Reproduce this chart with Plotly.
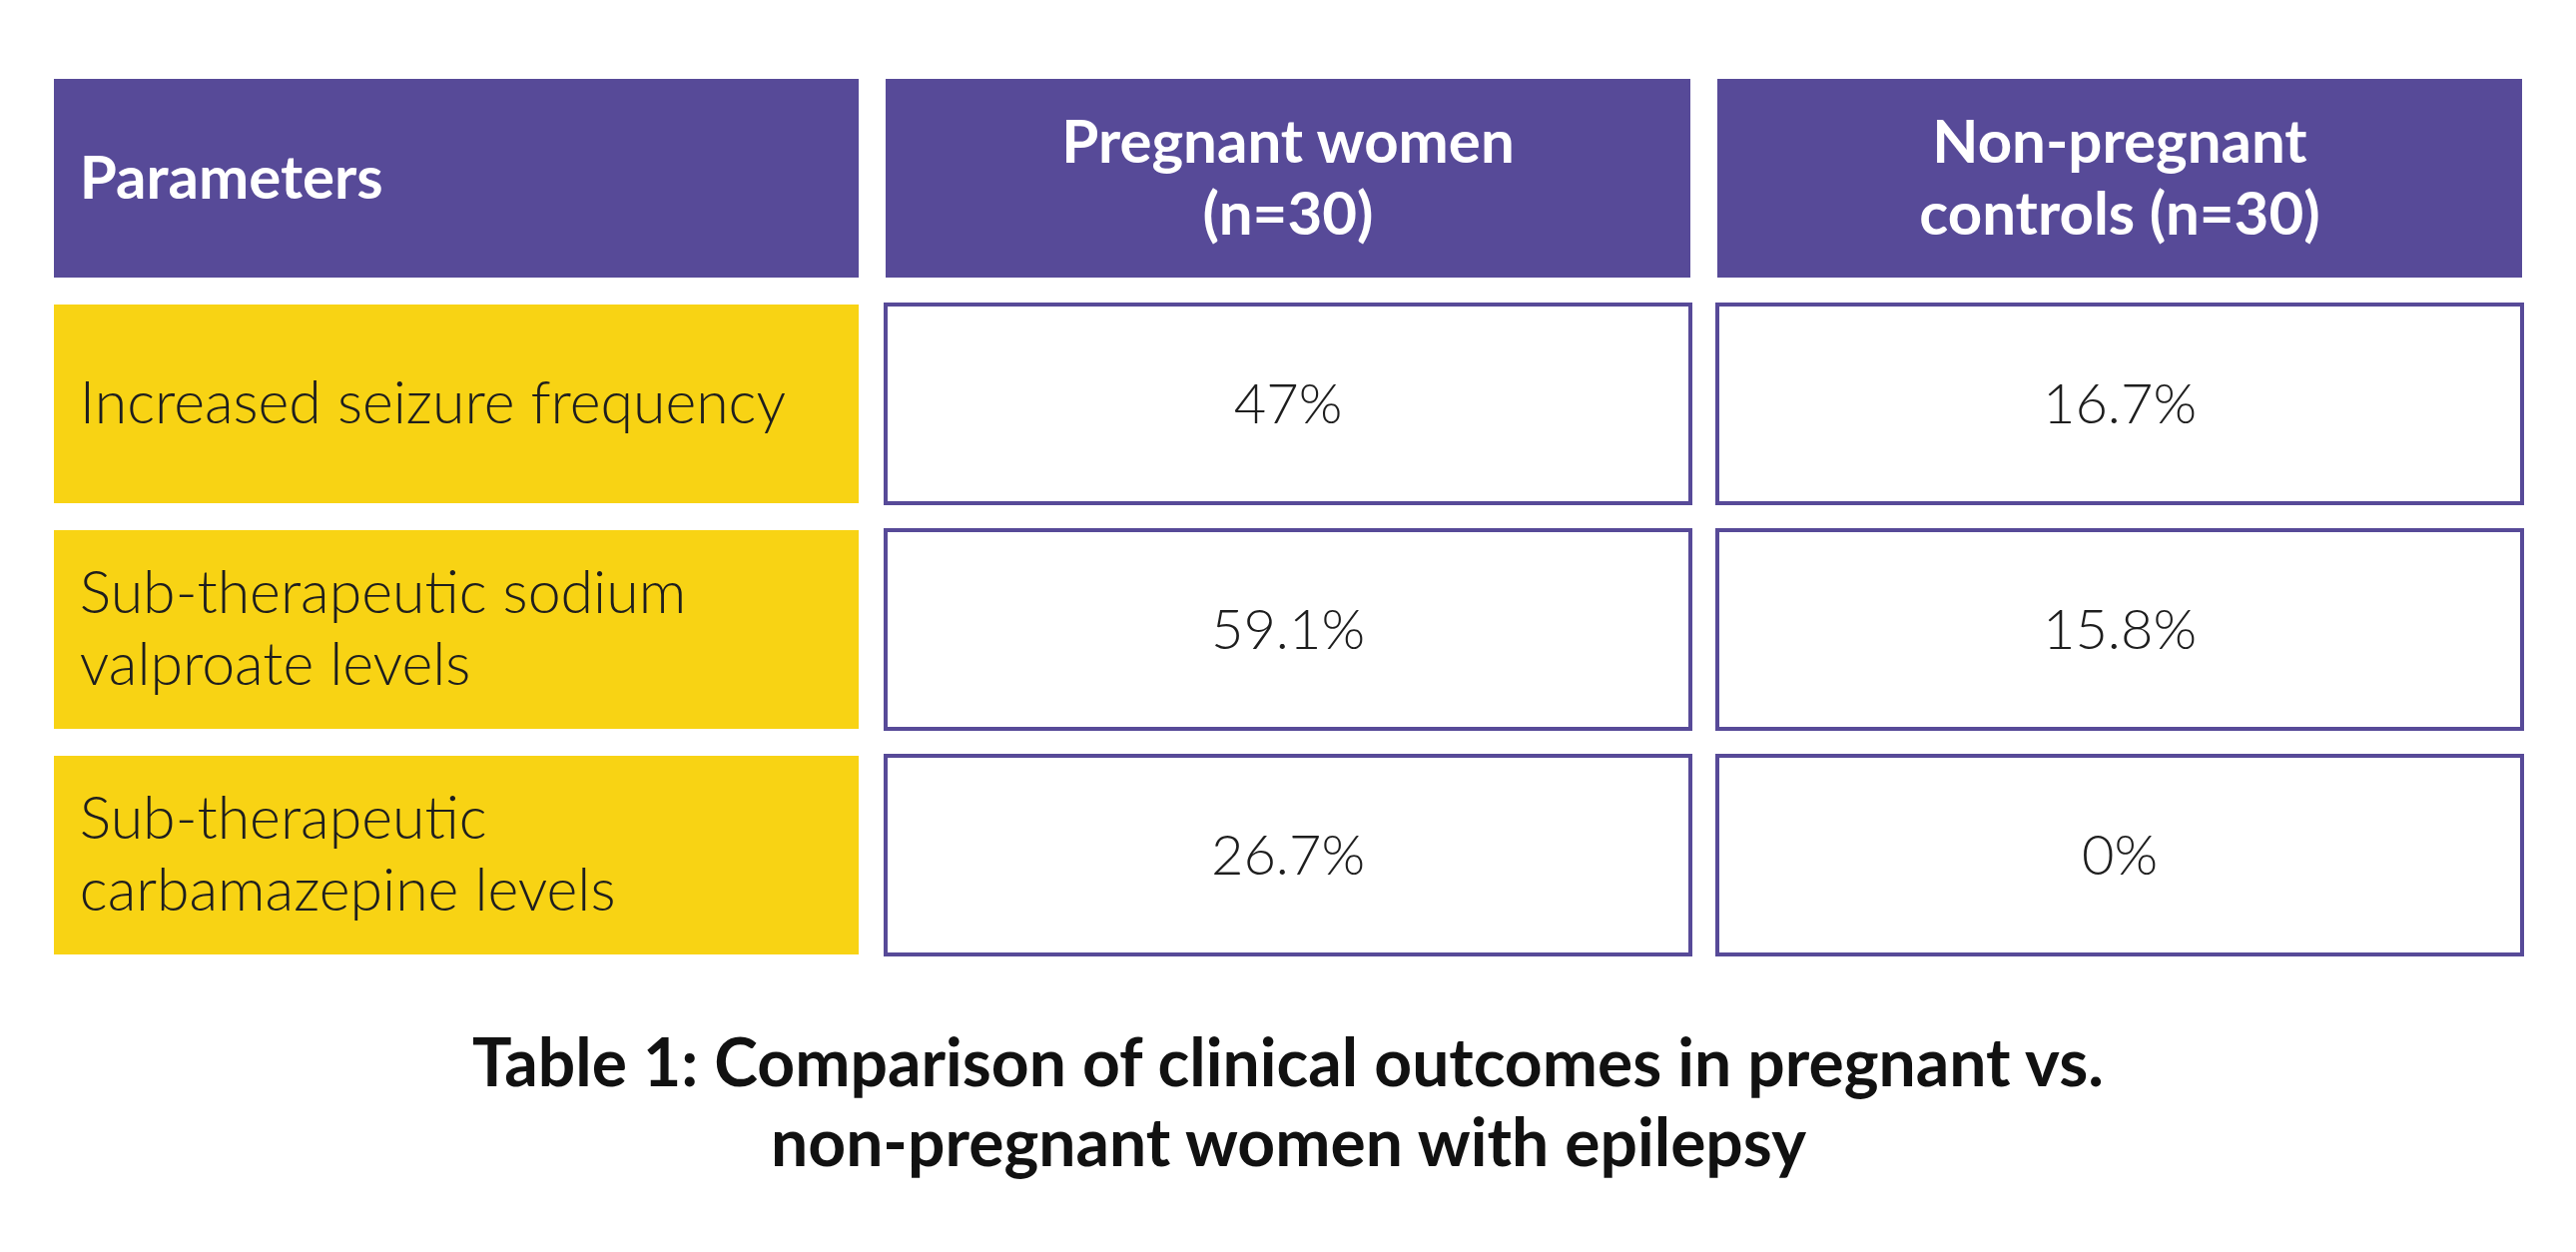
import plotly.graph_objects as go

# table content
headers = ["Parameters", "Pregnant women<br>(n=30)", "Non-pregnant<br>controls (n=30)"]
parameters = [
    "Increased seizure frequency",
    "Sub-therapeutic sodium<br>valproate levels",
    "Sub-therapeutic<br>carbamazepine levels",
]
pregnant_pct = [47, 59.1, 26.7]
controls_pct = [16.7, 15.8, 0]
caption = [
    "Table 1: Comparison of clinical outcomes in pregnant vs.",
    "non-pregnant women with epilepsy",
]

PURPLE = "#574a98"
YELLOW = "#f8d314"
TEXT = "#1e1e1e"
FONT = "Lato"

W, H = 2580, 1254
OFF = 8  # page body margin
fig_w, fig_h = W - 2 * OFF, H - 2 * OFF
cw, ch = 0.4838, 0.4403  # half cell width / height in axis units
pad = 0.031
x_unit, y_unit = 833, 226  # px per column / row
line_gap = 72 / y_unit
nudge = 5 / y_unit  # text sits a touch low in the reference


def split_lines(xs, ys, texts):
    # one point per text line so the line spacing can be set
    px, py, pt = [], [], []
    for x, y, t in zip(xs, ys, texts):
        parts = t.split("<br>")
        for i, p in enumerate(parts):
            px.append(x)
            py.append(y + nudge + (i - (len(parts) - 1) / 2) * line_gap)
            pt.append(p)
    return px, py, pt


columns = [[f"{v:g}%" for v in pregnant_pct], [f"{v:g}%" for v in controls_pct]]
n_rows = len(parameters) + 1
n_cols = len(headers)

shapes = []
for r in range(n_rows):
    for c in range(n_cols):
        if r == 0:
            fill, line = PURPLE, dict(width=0)
        elif c == 0:
            fill, line = YELLOW, dict(width=0)
        else:
            fill, line = "white", dict(color=PURPLE, width=4)
        shapes.append(dict(type="rect", xref="x", yref="y",
                           x0=c - cw, x1=c + cw, y0=r - ch, y1=r + ch,
                           fillcolor=fill, line=line, layer="below"))

figure = go.Figure()

# header row
hx, hy, ht = split_lines([-cw + pad], [0], headers[:1])
figure.add_trace(go.Scatter(
    x=hx, y=hy, text=ht, mode="text", textposition="middle right",
    textfont=dict(family=FONT, size=60, color="white", weight="bold"),
    hoverinfo="skip", showlegend=False))
hx, hy, ht = split_lines(list(range(1, n_cols)), [0] * (n_cols - 1), headers[1:])
figure.add_trace(go.Scatter(
    x=hx, y=hy, text=ht, mode="text", textposition="middle center",
    textfont=dict(family=FONT, size=60, color="white", weight="bold"),
    hoverinfo="skip", showlegend=False))

# parameter column
px, py, pt = split_lines([-cw + pad] * len(parameters), list(range(1, n_rows)), parameters)
figure.add_trace(go.Scatter(
    x=px, y=py, text=pt, mode="text", textposition="middle right",
    textfont=dict(family=FONT, size=59, color=TEXT, weight=300),
    hoverinfo="skip", showlegend=False))

# value columns
for c, values in enumerate(columns, start=1):
    vx, vy, vt = split_lines([c] * len(values), list(range(1, n_rows)), values)
    figure.add_trace(go.Scatter(
        x=vx, y=vy, text=vt, mode="text", textposition="middle center",
        textfont=dict(family=FONT, size=56, color=TEXT, weight=300),
        hoverinfo="skip", showlegend=False))

annotations = []
for i, line in enumerate(caption):
    annotations.append(dict(
        text=line, xref="paper", yref="paper", x=0.5,
        y=1 - (1062 - OFF + 80 * i) / fig_h,
        xanchor="center", yanchor="middle", showarrow=False,
        font=dict(family=FONT, size=66, color="#111111", weight="bold")))

x0 = -(457 - OFF) / x_unit
y0 = -(178.5 - OFF) / y_unit

figure.update_layout(
    width=fig_w,
    height=fig_h,
    margin=dict(l=0, r=0, t=0, b=0),
    paper_bgcolor="white",
    plot_bgcolor="white",
    shapes=shapes,
    annotations=annotations,
    xaxis=dict(range=[x0, x0 + fig_w / x_unit], visible=False, fixedrange=True),
    yaxis=dict(range=[y0 + fig_h / y_unit, y0], visible=False, fixedrange=True),
)

figure.write_html("out.html")
